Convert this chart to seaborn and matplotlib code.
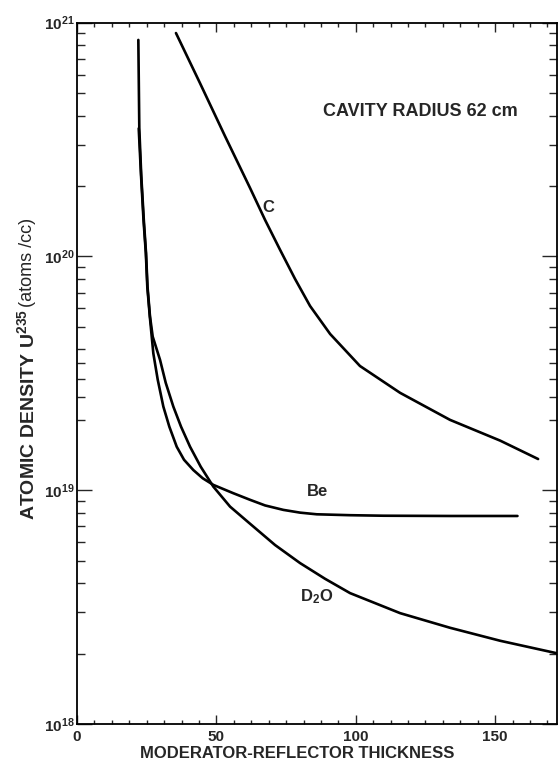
import matplotlib
matplotlib.use("Agg")
import matplotlib.pyplot as plt
from matplotlib.ticker import FixedLocator, NullFormatter, FixedFormatter
import numpy as np
import pandas as pd
import seaborn as sns

# Moderator-reflector thickness (cm) and U-235 atomic density (atoms/cc)
c_thickness = [35.5, 44.1, 53.1, 62.1, 67.5, 72.8, 78.2, 83.6, 90.8, 101.5, 115.9, 133.8,
               151.8, 165.4]
c_density = [9.03e20, 5.52e20, 3.27e20, 1.96e20, 1.43e20, 1.07e20, 8.02e19, 6.14e19, 4.66e19,
             3.40e19, 2.61e19, 2.00e19, 1.63e19, 1.36e19]

be_thickness = [22.14, 22.96, 23.86, 24.69, 25.22, 26.12, 27.38, 28.96, 30.97, 33.12, 35.77,
                38.39, 41.73, 45.10, 48.91, 56.08, 62.07, 67.46, 74.02, 80.01, 86.0, 97.95,
                109.9, 133.8, 158.0]
be_density = [3.53e20, 2.23e20, 1.43e20, 1.035e20, 7.41e19, 5.53e19, 3.85e19, 2.97e19,
              2.28e19, 1.87e19, 1.535e19, 1.35e19, 1.22e19, 1.125e19, 1.054e19, 9.71e18,
              9.10e18, 8.61e18, 8.24e18, 8.02e18, 7.89e18, 7.82e18, 7.78e18, 7.76e18, 7.76e18]

d2o_thickness = [22.0, 22.35, 23.04, 23.97, 24.76, 25.30, 26.19, 27.16, 29.79, 31.83, 34.55,
                 37.32, 40.55, 44.39, 48.91, 54.90, 61.36, 71.04, 80.01, 88.98, 97.95, 115.9,
                 133.8, 151.8, 171.9, 175.1]
d2o_density = [8.44e20, 3.53e20, 2.23e20, 1.43e20, 1.035e20, 7.41e19, 5.53e19, 4.54e19,
               3.61e19, 2.88e19, 2.28e19, 1.87e19, 1.535e19, 1.26e19, 1.036e19, 8.51e18,
               7.31e18, 5.83e18, 4.88e18, 4.18e18, 3.63e18, 2.98e18, 2.58e18, 2.27e18,
               2.01e18, 1.97e18]

x_ticks = [0, 50, 100, 150]
x_tick_labels = ["0", "50", "100", "150"]
y_ticks = [1e18, 1e19, 1e20, 1e21]
y_tick_labels = ["$10^{18}$", "$10^{19}$", "$10^{20}$", "$10^{21}$"]
y_minor_ticks = ([m * 1e18 for m in range(2, 10)]
                 + [m * 1e19 for m in (2, 2.5, 3, 3.5, 4, 5, 6, 7, 8, 9)]
                 + [m * 1e20 for m in range(2, 10)])

curves = pd.concat([
    pd.DataFrame({"thickness": c_thickness, "density": c_density, "moderator": "C"}),
    pd.DataFrame({"thickness": be_thickness, "density": be_density, "moderator": "Be"}),
    pd.DataFrame({"thickness": d2o_thickness, "density": d2o_density, "moderator": "D2O"}),
])

sns.set_style("ticks")
plt.rcParams["font.family"] = ["Liberation Sans", "DejaVu Sans"]
plt.rcParams["mathtext.fontset"] = "custom"
plt.rcParams["mathtext.rm"] = "Liberation Sans:bold"
plt.rcParams["mathtext.it"] = "Liberation Sans:bold"
plt.rcParams["mathtext.bf"] = "Liberation Sans:bold"

fig = plt.figure(figsize=(5.58, 7.68), dpi=100)
ax = fig.add_axes([77 / 558, 1 - 724 / 768, (556.5 - 77) / 558, (724 - 22.7) / 768])

for name in ["C", "Be", "D2O"]:
    sub = curves[curves["moderator"] == name]
    sns.lineplot(data=sub, x="thickness", y="density", ax=ax, color="black",
                 linewidth=1.9, estimator=None, sort=False, legend=False)

ax.set_yscale("log")
ax.set_xlim(0, 172)
ax.set_ylim(1e18, 1e21)

ax.xaxis.set_major_locator(FixedLocator(x_ticks))
ax.xaxis.set_major_formatter(FixedFormatter(x_tick_labels))
ax.xaxis.set_minor_locator(FixedLocator(np.arange(0, 175, 6.25)))
ax.yaxis.set_major_locator(FixedLocator(y_ticks))
ax.yaxis.set_major_formatter(FixedFormatter(y_tick_labels))
ax.yaxis.set_minor_locator(FixedLocator(y_minor_ticks))
ax.yaxis.set_minor_formatter(NullFormatter())

for side in ax.spines.values():
    side.set_linewidth(1.3)
    side.set_color("black")

ax.tick_params(axis="x", which="major", direction="in", length=6.3, width=1.0,
               top=True, labelsize=11, pad=4)
ax.tick_params(axis="x", which="minor", direction="in", length=2.8, width=1.0, top=True)
ax.tick_params(axis="y", which="major", direction="in", length=10.8, width=1.0,
               right=True, labelsize=11, pad=2)
ax.tick_params(axis="y", which="minor", direction="in", length=5.8, width=1.0, right=True)
for lbl in ax.get_xticklabels() + ax.get_yticklabels():
    lbl.set_fontweight("bold")

ax.set_xlabel("")
ax.set_ylabel("")
fig.text(297 / 558, 1 - 753 / 768, "MODERATOR-REFLECTOR THICKNESS", ha="center",
         va="center", fontsize=12, fontweight="bold")

# Rotated y-axis title: bold heading followed by the lighter unit
fig.text(27 / 558, 1 - 520 / 768, "ATOMIC DENSITY U$^{235}$", rotation=90,
         rotation_mode="anchor", ha="left", va="center", fontsize=14, fontweight="bold")
fig.text(27 / 558, 1 - 307 / 768, "(atoms /cc)", rotation=90,
         rotation_mode="anchor", ha="left", va="center", fontsize=13)

label_style = dict(fontsize=12, fontweight="bold", ha="center", va="center")
ax.annotate("C", xy=(268, 768 - 208), xycoords="figure pixels", **label_style)
ax.annotate("Be", xy=(318, 768 - 491), xycoords="figure pixels", **label_style)
ax.annotate("D$_2$O", xy=(317, 768 - 597), xycoords="figure pixels", **label_style)
ax.annotate("CAVITY RADIUS 62 cm", xy=(420, 768 - 112), xycoords="figure pixels",
            fontsize=13, fontweight="bold", ha="center", va="center")

fig.savefig("out.png", dpi=100)
